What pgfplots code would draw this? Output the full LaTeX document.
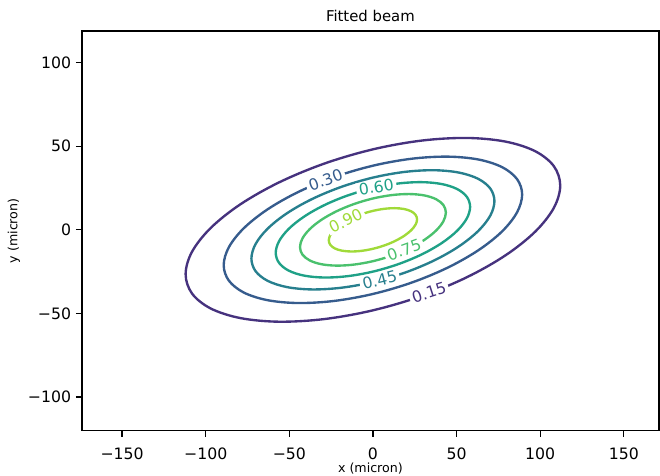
\documentclass[border=0pt]{standalone}
\usepackage{pgfplots}
\pgfplotsset{compat=1.18}
\usepackage{fontspec}
\setmainfont{DejaVu Sans}
\definecolor{c15}{RGB}{70,50,126}
\definecolor{c30}{RGB}{54,92,141}
\definecolor{c45}{RGB}{39,127,142}
\definecolor{c60}{RGB}{31,161,135}
\definecolor{c75}{RGB}{74,193,109}
\definecolor{c90}{RGB}{160,218,57}
\newcommand{\lblfont}{\fontsize{11.3}{13}\selectfont}
\begin{document}
\begin{tikzpicture}
\path[use as bounding box] (-59.0pt,-32.6pt) rectangle (416.2pt,310.1pt);
\begin{axis}[
  at={(0,0)}, anchor=south west,
  scale only axis, width=415.4pt, height=287.8pt,
  xmin=-174, xmax=171, ymin=-120.2, ymax=119,
  axis line style={line width=0.9pt},
  tick style={line width=0.9pt, black},
  tick align=outside, major tick length=4.3pt,
  xtick pos=left, ytick pos=left,
  xtick={-150,-100,-50,0,50,100,150},
  xticklabels={−150,−100,−50,0,50,100,150},
  ytick={-100,-50,0,50,100},
  yticklabels={−100,−50,0,50,100},
  tick label style={font=\lblfont},
  xticklabel style={yshift=-4.5pt},
  title={Fitted beam},
  title style={font=\fontsize{10.7}{12}\selectfont, yshift=-3pt},
  xlabel={x (micron)}, ylabel={y (micron)},
  label style={font=\fontsize{9.1}{11}\selectfont},
  xlabel style={at={(axis description cs:0.5,-0.094)}, anchor=center},
  ylabel style={at={(axis description cs:-0.118,0.5)}, anchor=center, rotate=0},
  every axis plot/.append style={line width=1.7pt, tension=0.565},
]
% level 0.15
\addplot[c15, smooth cycle] coordinates {
(112.00,26.52) (108.19,38.09) (97.01,47.06) (79.20,52.82) (56.00,54.98) (28.98,53.39) (0,48.17) (-28.98,39.67) (-56.00,28.45) (-79.20,15.31) (-97.01,1.11) (-108.19,-13.15)
(-112.00,-26.52) (-108.19,-38.09) (-97.01,-47.06) (-79.20,-52.82) (-56.00,-54.98) (-28.98,-53.39) (0,-48.17) (28.98,-39.67) (56.00,-28.45) (79.20,-15.31) (97.01,-1.11) (108.19,13.15)
};
% level 0.30
\addplot[c30, smooth cycle] coordinates {
(89.23,21.13) (86.19,30.34) (77.28,37.49) (63.10,42.08) (44.61,43.80) (23.09,42.54) (0,38.38) (-23.09,31.60) (-44.61,22.67) (-63.10,12.19) (-77.28,0.89) (-86.19,-10.48)
(-89.23,-21.13) (-86.19,-30.34) (-77.28,-37.49) (-63.10,-42.08) (-44.61,-43.80) (-23.09,-42.54) (0,-38.38) (23.09,-31.60) (44.61,-22.67) (63.10,-12.19) (77.28,-0.89) (86.19,10.48)
};
% level 0.45
\addplot[c45, smooth cycle] coordinates {
(72.66,17.21) (70.19,24.71) (62.93,30.53) (51.38,34.27) (36.33,35.67) (18.80,34.64) (0,31.25) (-18.80,25.73) (-36.33,18.46) (-51.38,9.93) (-62.93,0.72) (-70.19,-8.53)
(-72.66,-17.21) (-70.19,-24.71) (-62.93,-30.53) (-51.38,-34.27) (-36.33,-35.67) (-18.80,-34.64) (0,-31.25) (18.80,-25.73) (36.33,-18.46) (51.38,-9.93) (62.93,-0.72) (70.19,8.53)
};
% level 0.60
\addplot[c60, smooth cycle] coordinates {
(58.12,13.76) (56.14,19.76) (50.34,24.42) (41.10,27.41) (29.06,28.53) (15.04,27.71) (0,25.00) (-15.04,20.58) (-29.06,14.77) (-41.10,7.94) (-50.34,0.58) (-56.14,-6.83)
(-58.12,-13.76) (-56.14,-19.76) (-50.34,-24.42) (-41.10,-27.41) (-29.06,-28.53) (-15.04,-27.71) (0,-25.00) (15.04,-20.58) (29.06,-14.77) (41.10,-7.94) (50.34,-0.58) (56.14,6.83)
};
% level 0.75
\addplot[c75, smooth cycle] coordinates {
(43.61,10.33) (42.13,14.83) (37.77,18.32) (30.84,20.57) (21.81,21.41) (11.29,20.79) (0,18.76) (-11.29,15.45) (-21.81,11.08) (-30.84,5.96) (-37.77,0.43) (-42.13,-5.12)
(-43.61,-10.33) (-42.13,-14.83) (-37.77,-18.32) (-30.84,-20.57) (-21.81,-21.41) (-11.29,-20.79) (0,-18.76) (11.29,-15.45) (21.81,-11.08) (30.84,-5.96) (37.77,-0.43) (42.13,5.12)
};
% level 0.90
\addplot[c90, smooth cycle] coordinates {
(26.39,6.25) (25.49,8.97) (22.86,11.09) (18.66,12.45) (13.20,12.96) (6.83,12.58) (0,11.35) (-6.83,9.35) (-13.20,6.71) (-18.66,3.61) (-22.86,0.26) (-25.49,-3.10)
(-26.39,-6.25) (-25.49,-8.97) (-22.86,-11.09) (-18.66,-12.45) (-13.20,-12.96) (-6.83,-12.58) (0,-11.35) (6.83,-9.35) (13.20,-6.71) (18.66,-3.61) (22.86,-0.26) (25.49,3.10)
};
% inline contour labels
\node[fill=white, inner xsep=2pt, inner ysep=0.5pt, text=c30, rotate=20, font=\lblfont] at (axis cs:-28.3,29.8) {0.30};
\node[fill=white, inner xsep=2pt, inner ysep=0.5pt, text=c60, rotate=9, font=\lblfont] at (axis cs:2,25.6) {0.60};
\node[fill=white, inner xsep=2pt, inner ysep=0.5pt, text=c90, rotate=26, font=\lblfont] at (axis cs:-16.3,5.5) {0.90};
\node[fill=white, inner xsep=2pt, inner ysep=0.5pt, text=c75, rotate=20, font=\lblfont] at (axis cs:18.7,-12) {0.75};
\node[fill=white, inner xsep=2pt, inner ysep=0.5pt, text=c45, rotate=14, font=\lblfont] at (axis cs:4,-30) {0.45};
\node[fill=white, inner xsep=2pt, inner ysep=0.5pt, text=c15, rotate=18, font=\lblfont] at (axis cs:33.5,-37.5) {0.15};
\end{axis}
\end{tikzpicture}
\end{document}
